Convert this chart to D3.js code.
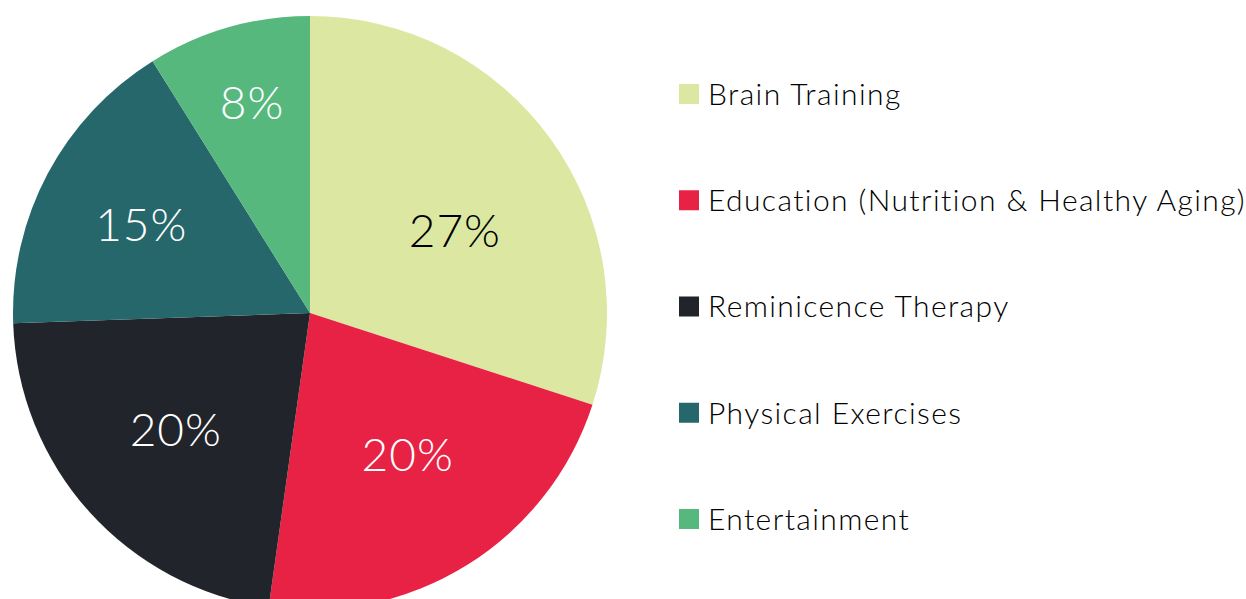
<html>
<head>
  <script src="https://cdnjs.cloudflare.com/ajax/libs/d3/7.8.5/d3.min.js"></script>
  <style>
    body { margin: 0; background: #fff; font-family: Lato, "Open Sans", sans-serif; }
  </style>
</head>
<body>
  <div id="chart"></div>
  <script>
    // data
    var categories = ["Brain Training", "Education (Nutrition & Healthy Aging)", "Reminicence Therapy", "Physical Exercises", "Entertainment"];
    var values = [27, 20, 20, 15, 8];
    var labels = ["27%", "20%", "20%", "15%", "8%"];

    // styling
    var colors = ["#dce8a2", "#e82245", "#21242b", "#26676b", "#57b87e"];
    var labelColors = ["#000", "#fff", "#fff", "#fff", "#fff"];
    var labelRadius = [0.562, 0.578, 0.599, 0.641, 0.734];
    var labelShift = [6.2, -2.7, 1, -0.4, 0.6]; // degrees

    var svgWidth = 1246, svgHeight = 599;
    var cx = 310, cy = 313, radius = 297;

    var svg = d3.select("#chart").append("svg")
      .attr("width", svgWidth)
      .attr("height", svgHeight);

    var data = categories.map(function(c, i) { return { name: c, value: values[i], label: labels[i], i: i }; });

    var pie = d3.pie().sort(null).value(function(d) { return d.value; });
    var arc = d3.arc().innerRadius(0).outerRadius(radius);

    var g = svg.append("g").attr("transform", "translate(" + cx + "," + cy + ")");
    var arcs = pie(data);

    g.selectAll("path")
      .data(arcs)
      .enter().append("path")
      .attr("d", arc)
      .attr("fill", function(d) { return colors[d.data.i]; });

    g.selectAll("text")
      .data(arcs)
      .enter().append("text")
      .attr("transform", function(d) {
        var r = radius * labelRadius[d.data.i];
        var a = (d.startAngle + d.endAngle) / 2 + labelShift[d.data.i] * Math.PI / 180;
        return "translate(" + (r * Math.sin(a)) + "," + (-r * Math.cos(a)) + ")";
      })
      .attr("text-anchor", "middle")
      .attr("dy", "0.36em")
      .style("font-size", "46px")
      .style("font-weight", 300)
      .style("letter-spacing", "1px")
      .style("fill", function(d) { return labelColors[d.data.i]; })
      .text(function(d) { return d.data.label; });

    // legend
    var legend = svg.append("g").attr("transform", "translate(679,0)");
    var rowY = d3.scalePoint().domain(categories).range([94, 519]);
    var items = legend.selectAll("g")
      .data(categories)
      .enter().append("g")
      .attr("transform", function(d) { return "translate(0," + rowY(d) + ")"; });
    items.append("rect")
      .attr("x", 0).attr("y", -10)
      .attr("width", 20).attr("height", 20)
      .attr("fill", function(d, i) { return colors[i]; });
    items.append("text")
      .attr("x", 29)
      .attr("dy", "0.36em")
      .style("font-size", "30px")
      .style("font-weight", 300)
      .style("letter-spacing", "1.4px")
      .style("fill", "#000")
      .text(function(d) { return d; });
  </script>
</body>
</html>
